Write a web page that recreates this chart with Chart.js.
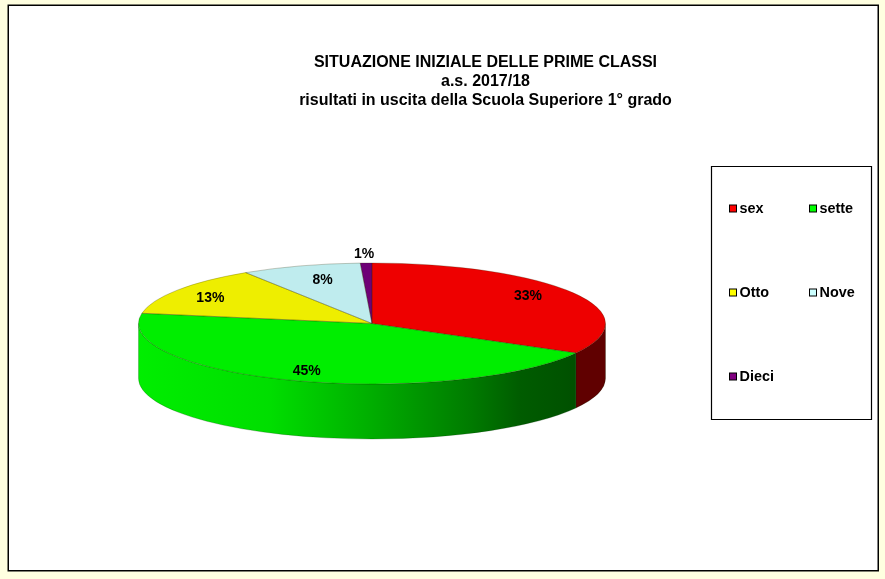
<!DOCTYPE html>
<html>
<head>
<meta charset="utf-8">
<style>
html,body{margin:0;padding:0;background:#FFFFE0;}
canvas{display:block;}
</style>
<script src="https://cdn.jsdelivr.net/npm/chart.js@4"></script>
</head>
<body>
<canvas id="c" width="885" height="579" style="width:885px;height:579px"></canvas>
<script>
const titleLines = ['SITUAZIONE INIZIALE DELLE PRIME CLASSI', 'a.s. 2017/18', 'risultati in uscita della Scuola Superiore 1° grado'];
const categories = ['sex', 'sette', 'Otto', 'Nove', 'Dieci'];
const values = [33.1, 44.6, 13.2, 8.3, 0.8];
const sliceColors = ['#EE0000', '#00EE00', '#EEEE00', '#BFECEE', '#6E0076'];
const legendColors = ['#FF0000', '#00FF00', '#FFFF00', '#CCFFFF', '#800080'];
const wallColors = ['#600000', '#00EE00', '#DDDD00', '#B0DDDD', '#500058'];
const labelRadiusX = [0.775, 0.84, 0.83, 0.69, 1.35];
const labelRadiusY = [0.89, 0.84, 0.75, 0.76, 1.14];

const PIE = {cx: 372, cy: 323.5, rx: 233.5, ry: 60.5, depth: 55};
const FONT = '"Liberation Sans", Arial, sans-serif';

function wallFill(ctx, i) {
  if (i !== 1) return wallColors[i];
  const g = ctx.createLinearGradient(PIE.cx - PIE.rx, 0, 577, 0);
  g.addColorStop(0, '#00EE00');
  g.addColorStop(0.3, '#00DE00');
  g.addColorStop(0.53, '#00AE00');
  g.addColorStop(0.76, '#007A00');
  g.addColorStop(0.87, '#005C00');
  g.addColorStop(1, '#005000');
  return g;
}

const pie3d = {
  id: 'pie3d',
  beforeDraw(chart) {
    const ctx = chart.ctx;
    ctx.save();
    ctx.fillStyle = '#FFFFE0';
    ctx.fillRect(0, 0, chart.width, chart.height);
    ctx.fillStyle = '#FFFFFF';
    ctx.strokeStyle = '#000000';
    ctx.lineWidth = 1.5;
    ctx.beginPath();
    ctx.rect(8.25, 5.25, 870, 565.5);
    ctx.fill();
    ctx.stroke();
    ctx.restore();
  },
  afterLayout(chart) {
    chart.titleBlock.left = 140;
    chart.titleBlock.right = 831;
  },
  beforeDatasetsDraw(chart) {
    const ctx = chart.ctx;
    const arcs = chart.getDatasetMeta(0).data;
    const {cx, cy, rx, ry, depth} = PIE;
    ctx.save();
    arcs.forEach((arc, i) => {
      const p = arc.getProps(['startAngle', 'endAngle']);
      const a1 = Math.max(p.startAngle, 0);
      const a2 = Math.min(p.endAngle, Math.PI);
      if (a2 <= a1) return;
      ctx.beginPath();
      ctx.ellipse(cx, cy, rx, ry, 0, a1, a2);
      ctx.ellipse(cx, cy + depth, rx, ry, 0, a2, a1, true);
      ctx.closePath();
      ctx.fillStyle = wallFill(ctx, i);
      ctx.fill();
      ctx.strokeStyle = 'rgba(0,40,0,0.45)';
      ctx.lineWidth = 0.5;
      ctx.stroke();
    });
    ctx.restore();
    const first = arcs[0].getProps(['x', 'y', 'outerRadius']);
    ctx.save();
    ctx.translate(cx, cy);
    ctx.scale(rx / first.outerRadius, ry / first.outerRadius);
    ctx.translate(-first.x, -first.y);
  },
  afterDatasetsDraw(chart) {
    const ctx = chart.ctx;
    ctx.restore();
    const arcs = chart.getDatasetMeta(0).data;
    const {cx, cy, rx, ry} = PIE;
    arcs.forEach((arc) => {
      const p = arc.getProps(['startAngle', 'endAngle']);
      ctx.beginPath();
      ctx.moveTo(cx, cy);
      ctx.ellipse(cx, cy, rx, ry, 0, p.startAngle, p.endAngle);
      ctx.closePath();
      ctx.strokeStyle = 'rgba(40,40,0,0.5)';
      ctx.lineWidth = 0.5;
      ctx.stroke();
    });
    ctx.fillStyle = '#000000';
    ctx.font = 'bold 14px ' + FONT;
    ctx.textAlign = 'center';
    ctx.textBaseline = 'middle';
    arcs.forEach((arc, i) => {
      const p = arc.getProps(['startAngle', 'endAngle']);
      const mid = (p.startAngle + p.endAngle) / 2;
      const x = cx + Math.cos(mid) * rx * labelRadiusX[i];
      const y = cy + Math.sin(mid) * ry * labelRadiusY[i];
      ctx.fillText(Math.round(values[i]) + '%', x, y);
    });
  },
  afterDraw(chart) {
    const ctx = chart.ctx;
    ctx.save();
    ctx.fillStyle = '#FFFFFF';
    ctx.strokeStyle = '#000000';
    ctx.lineWidth = 1.2;
    ctx.beginPath();
    ctx.rect(711.5, 166.5, 160, 253);
    ctx.fill();
    ctx.stroke();
    const colX = [729.5, 809.5];
    const rowY = [208.5, 292.5, 376.5];
    ctx.font = 'bold 14.4px ' + FONT;
    ctx.textBaseline = 'middle';
    ctx.textAlign = 'left';
    categories.forEach((name, i) => {
      const x = colX[i % 2];
      const y = rowY[Math.floor(i / 2)];
      ctx.fillStyle = legendColors[i];
      ctx.strokeStyle = '#000000';
      ctx.lineWidth = 1;
      ctx.fillRect(x, y - 3.5, 7, 7);
      ctx.strokeRect(x, y - 3.5, 7, 7);
      ctx.fillStyle = '#000000';
      ctx.fillText(name, x + 10, y + 0.5);
    });
    ctx.restore();
  }
};

new Chart(document.getElementById('c'), {
  type: 'pie',
  data: {
    labels: categories,
    datasets: [{
      data: values,
      backgroundColor: sliceColors,
      borderWidth: 0,
      clip: false
    }]
  },
  options: {
    responsive: false,
    devicePixelRatio: 1,
    animation: false,
    layout: {padding: {top: 53, left: 140, right: 280, bottom: 10}},
    plugins: {
      legend: {display: false},
      tooltip: {enabled: false},
      title: {
        display: true,
        text: titleLines,
        color: '#000000',
        align: 'center',
        font: {family: FONT, size: 16, weight: 'bold', lineHeight: 1.1875},
        padding: 0
      }
    }
  },
  plugins: [pie3d]
});
</script>
</body>
</html>
